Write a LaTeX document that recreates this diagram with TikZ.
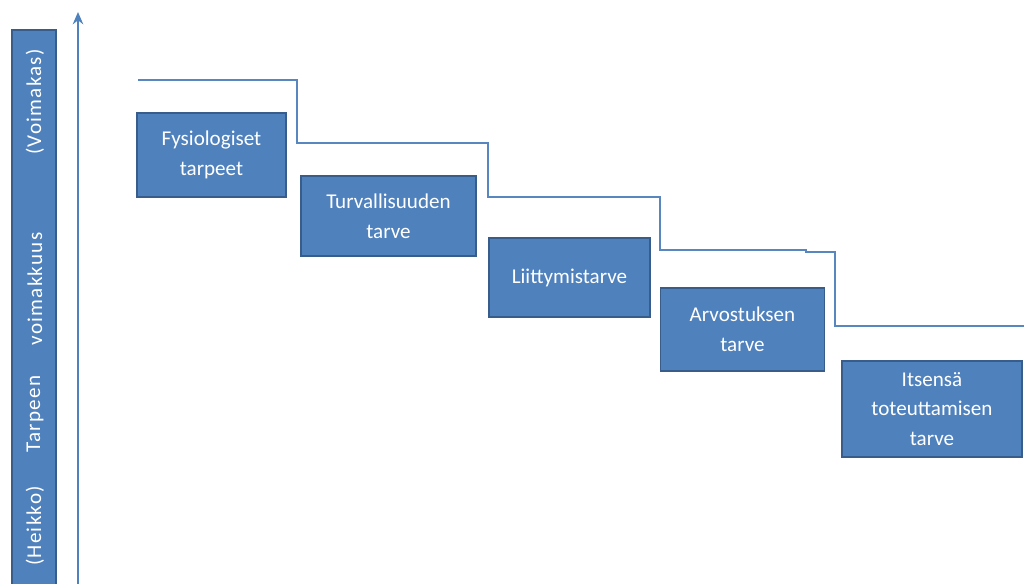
\documentclass[tikz,border=0pt]{standalone}
\usepackage{fontspec}
\setmainfont{Carlito}
\usetikzlibrary{arrows.meta}
\definecolor{tarvesin}{HTML}{4F81BD}
\definecolor{tarvereuna}{HTML}{385D8A}
\begin{document}
\begin{tikzpicture}[
        x=0.02cm, y=-0.02cm,
        font=\fontsize{12}{17}\selectfont,
        tarve/.style={
            rectangle, draw=tarvereuna, fill=tarvesin, line width=0.8pt,
            text=white, align=center, inner sep=0pt
        },
        akseliteksti/.style={rotate=90, text=white, inner sep=0pt,
            font=\addfontfeatures{LetterSpace=6}\fontsize{12}{14}\selectfont},
        porras/.style={draw=tarvesin!95!white, line width=1.3pt, line join=miter},
        akseli/.style={-{Stealth[length=7pt,width=6pt]}, draw=tarvesin, line width=0.9pt}
    ]
        \useasboundingbox (0,0) rectangle (1024,583);

        % Pystypalkki ja akseli
        \draw[fill=tarvesin, draw=tarvereuna, line width=0.8pt] (12,30) rectangle (56,600);
        \node[akseliteksti] (heikko) at (35,526) {(Heikko)};
        \node[akseliteksti] (tarpeen) at (35,414) {Tarpeen};
        \node[akseliteksti] (voimakkuus) at (35,289) {voimakkuus};
        \node[akseliteksti] (voimakas) at (35,102) {(Voimakas)};
        \coordinate (ala) at (78,590);
        \coordinate (yla) at (78,12);
        \draw[akseli] (ala) -- (yla);

        % Tarpeet
        \node[tarve, minimum width=2.98cm, minimum height=1.68cm] (fysio) at (211.5,155) {Fysiologiset\\tarpeet};
        \node[tarve, minimum width=3.5cm, minimum height=1.6cm] (turva) at (388.5,216) {Turvallisuuden\\tarve};
        \node[tarve, minimum width=3.22cm, minimum height=1.58cm] (liitty) at (569.5,277.5) {Liittymistarve};
        \node[tarve, minimum width=3.28cm, minimum height=1.66cm] (arvostus) at (742.5,329.5) {Arvostuksen\\tarve};
        \node[tarve, minimum width=3.6cm, minimum height=1.92cm] (itse) at (932,409) {Itsensä\\toteuttamisen\\tarve};

        % Portaat
        \draw[porras] (138,80) -- (297,80) -- (297,143) -- (488,143) -- (488,197)
            -- (660,197) -- (660,250) -- (806,250) -- (806,252) -- (835,252)
            -- (835,326) -- (1030,326);

    \end{tikzpicture}
\end{document}
